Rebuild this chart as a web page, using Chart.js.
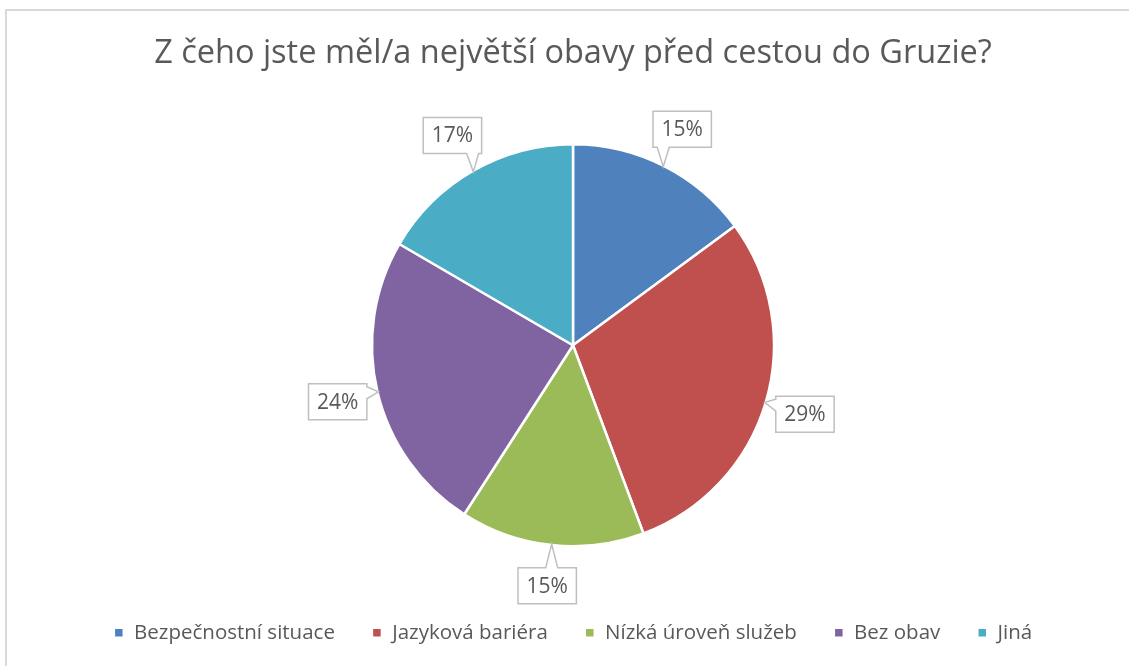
<!DOCTYPE html>
<html lang="cs">
<head>
<meta charset="utf-8">
<title>Obavy před cestou do Gruzie</title>
<script src="https://cdn.jsdelivr.net/npm/chart.js@4.4.1/dist/chart.umd.min.js"></script>
<style>
    html, body { margin: 0; padding: 0; background: #fff; overflow: hidden; }
    #frame { position: absolute; left: 5px; top: 9px; width: 1200px; height: 700px;
             border: 2px solid #d9d9d9; box-sizing: border-box; }
    #wrap { position: absolute; left: 0; top: 0; width: 1129px; height: 666px; }
</style>
</head>
<body>
<div id="frame"></div>
<div id="wrap"><canvas id="pieChart"></canvas></div>
<script>
// ------------------ DONNÉES ------------------
const chartTitle = 'Z čeho jste měl/a největší obavy před cestou do Gruzie?';
const categories = ['Bezpečnostní situace', 'Jazyková bariéra', 'Nízká úroveň služeb', 'Bez obav', 'Jiná'];
const values = [14.9, 29.4, 14.8, 24.3, 16.6];
const colors = ['#4F81BD', '#C0504D', '#9BBB59', '#8064A2', '#4BACC6'];

const textColor = '#595959';
const fontFamily = "'Open Sans', sans-serif";

// Étiquettes en bulle (callouts) autour du camembert
const calloutPlugin = {
    id: 'callouts',
    afterDatasetsDraw(chart) {
        const ctx = chart.ctx;
        const meta = chart.getDatasetMeta(0);
        const total = values.reduce((a, b) => a + b, 0);
        ctx.save();
        ctx.font = "21px " + fontFamily;
        ctx.textAlign = 'center';
        ctx.textBaseline = 'middle';
        meta.data.forEach((arc, i) => {
            const p = arc.getProps(['x', 'y', 'startAngle', 'endAngle', 'outerRadius'], true);
            const mid = (p.startAngle + p.endAngle) / 2;
            const cx = p.x + Math.cos(mid) * (p.outerRadius + 41);
            const cy = p.y + Math.sin(mid) * (p.outerRadius + 41);
            const tx = p.x + Math.cos(mid) * (p.outerRadius - 1);
            const ty = p.y + Math.sin(mid) * (p.outerRadius - 1);
            const text = Math.round(values[i] / total * 100) + '%';
            const w = ctx.measureText(text).width + 17;
            const h = 36;
            const L = cx - w / 2, R = cx + w / 2, T = cy - h / 2, B = cy + h / 2;

            // Côté de la boîte où se place la pointe
            const vx = tx - cx, vy = ty - cy;
            let edge;
            if (Math.abs(vx) / (w / 2) > Math.abs(vy) / (h / 2)) {
                edge = vx < 0 ? 'left' : 'right';
            } else {
                edge = vy < 0 ? 'top' : 'bottom';
            }
            const clamp = (v, a, b) => Math.max(a, Math.min(b, v));
            const bx = clamp(tx, L + 9, R - 9);
            const by = clamp(ty, T + 9, B - 9);
            const hw = 6;

            ctx.beginPath();
            ctx.moveTo(L, T);
            if (edge === 'top') { ctx.lineTo(bx - hw, T); ctx.lineTo(tx, ty); ctx.lineTo(bx + hw, T); }
            ctx.lineTo(R, T);
            if (edge === 'right') { ctx.lineTo(R, by - hw); ctx.lineTo(tx, ty); ctx.lineTo(R, by + hw); }
            ctx.lineTo(R, B);
            if (edge === 'bottom') { ctx.lineTo(bx + hw, B); ctx.lineTo(tx, ty); ctx.lineTo(bx - hw, B); }
            ctx.lineTo(L, B);
            if (edge === 'left') { ctx.lineTo(L, by + hw); ctx.lineTo(tx, ty); ctx.lineTo(L, by - hw); }
            ctx.closePath();
            ctx.fillStyle = '#fff';
            ctx.fill();
            ctx.lineWidth = 1.5;
            ctx.strokeStyle = '#bfbfbf';
            ctx.stroke();

            ctx.fillStyle = textColor;
            ctx.fillText(text, cx, cy + 1);
        });
        ctx.restore();
    }
};

const ctx = document.getElementById('pieChart').getContext('2d');
const chart = new Chart(ctx, {
    type: 'pie',
    data: {
        labels: categories,
        datasets: [{
            data: values,
            backgroundColor: colors,
            borderColor: '#fff',
            borderWidth: 2.5,
            radius: 201
        }]
    },
    options: {
        responsive: true,
        maintainAspectRatio: false,
        animation: false,
        layout: { padding: { left: 17, right: 0, top: 0, bottom: 13 } },
        plugins: {
            title: {
                display: true,
                text: chartTitle,
                color: textColor,
                font: { family: fontFamily, size: 32.5, weight: 'normal' },
                padding: { top: 34, bottom: 32 }
            },
            legend: {
                position: 'bottom',
                labels: {
                    color: textColor,
                    font: { family: fontFamily, size: 20.5 },
                    boxWidth: 10,
                    boxHeight: 10,
                    padding: 37
                }
            },
            tooltip: { enabled: false }
        }
    },
    plugins: [calloutPlugin]
});
</script>
</body>
</html>
